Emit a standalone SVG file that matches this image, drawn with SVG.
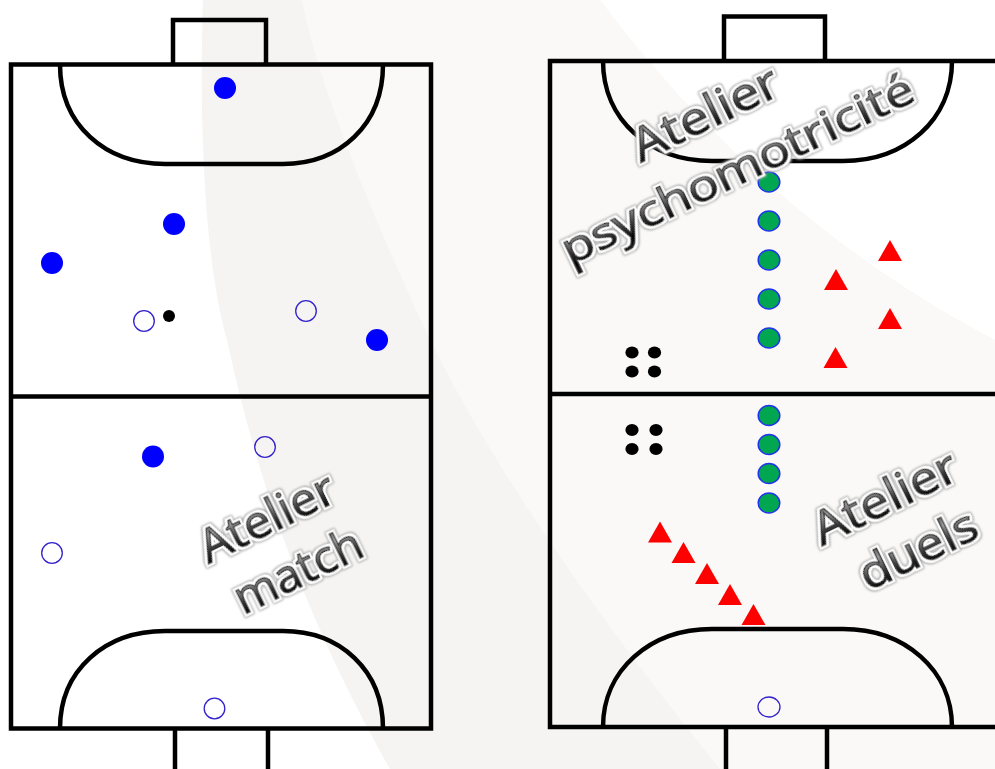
<svg xmlns="http://www.w3.org/2000/svg" width="995" height="769" viewBox="0 0 995 769">
<style>
.l{fill:none;stroke:#000;stroke-width:4.500}
.p{fill:#00f}
.o{fill:none;stroke:#3322cc;stroke-width:1.300}
.g{fill:#00a650;stroke:#2233ee;stroke-width:1.500}
.t{fill:#f00}
.k{fill:#000}
.w{font-family:"Open Sans","Noto Sans",sans-serif;font-size:46px;text-anchor:middle;fill:url(#tg);stroke:#333;stroke-width:1.300;filter:url(#halo)}
</style>
<defs>
<linearGradient id="tg" x1="0" y1="0" x2="0" y2="1">
<stop offset="0" stop-color="#222"/><stop offset=".35" stop-color="#999"/><stop offset=".6" stop-color="#333"/><stop offset=".8" stop-color="#000"/><stop offset="1" stop-color="#222"/>
</linearGradient>
<filter id="halo" x="-20%" y="-30%" width="140%" height="160%">
<feMorphology in="SourceAlpha" operator="dilate" radius="2.800" result="d1"/>
<feGaussianBlur in="d1" stdDeviation="1" result="b1"/>
<feFlood flood-color="#aaa" result="f1"/>
<feComposite in="f1" in2="b1" operator="in" result="c1"/>
<feMorphology in="SourceAlpha" operator="dilate" radius="2" result="d2"/>
<feGaussianBlur in="d2" stdDeviation=".6" result="b2"/>
<feFlood flood-color="#fff" result="f2"/>
<feComposite in="f2" in2="b2" operator="in" result="c2"/>
<feGaussianBlur in="SourceGraphic" stdDeviation=".6" result="s"/>
<feMerge><feMergeNode in="c1"/><feMergeNode in="c2"/><feMergeNode in="s"/></feMerge>
</filter>
</defs>
<rect width="995" height="769" fill="#fff"/>
<path d="M203,0 C199,120 204,260 227,340 C255,470 300,610 390,769 L995,769 L995,340 C860,270 720,160 600,0 Z" fill="#f5f4f2"/>
<path d="M302,0 C315,70 360,190 430,340 C500,480 600,620 720,769 L995,769 L995,340 C860,270 720,160 600,0 Z" fill="#faf9f7"/>
<g id="field-left">
<path class="l" d="M173,64.500 V20 H266 V64.500"/>
<path class="l" d="M175,728.500 V775 H268 V728.500"/>
<rect class="l" x="11" y="64.500" width="420" height="664"/>
<path class="l" d="M11,396.500 H431"/>
<path class="l" d="M60,64.500 C60,125 105,164 165,164 H283 C340,164 383,125 383,64.500"/>
<path class="l" d="M60,728.500 C60,670 105,631 165,631 H283 C340,631 383,670 383,728.500"/>
</g>
<g id="field-right">
<path class="l" d="M724,61 V16.500 H825 V61"/>
<path class="l" d="M726,727 V775 H827 V727"/>
<path class="l" d="M1000,61 H550 V727 H1000"/>
<path class="l" d="M550,394 H1000"/>
<path class="l" d="M603,61 C603,120 650,161 712,161 H843 C905,161 952,120 952,61"/>
<path class="l" d="M603,727 C603,670 650,629 712,629 H843 C905,629 952,670 952,727"/>
</g>
<g id="players-blue">
<circle class="p" cx="225" cy="88" r="11"/><circle class="p" cx="174" cy="224" r="11"/><circle class="p" cx="52" cy="263" r="11"/><circle class="p" cx="377" cy="340" r="11"/><circle class="p" cx="153" cy="456.500" r="11"/>
</g>
<g id="players-open">
<circle class="o" cx="144" cy="321" r="10.300"/><circle class="o" cx="306" cy="311" r="10.300"/><circle class="o" cx="265" cy="447" r="10.300"/><circle class="o" cx="52" cy="553" r="10.300"/><circle class="o" cx="214.500" cy="708.500" r="10.300"/><ellipse class="o" cx="769" cy="707" rx="11" ry="10"/>
</g>
<circle id="ball" class="k" cx="169" cy="316" r="6"/>
<g id="cones-green">
<ellipse class="g" cx="769" cy="182" rx="10.800" ry="10"/><ellipse class="g" cx="769" cy="221" rx="10.800" ry="10"/><ellipse class="g" cx="769" cy="260" rx="10.800" ry="10"/><ellipse class="g" cx="769" cy="299" rx="10.800" ry="10"/><ellipse class="g" cx="769" cy="338" rx="10.800" ry="10"/><ellipse class="g" cx="769" cy="415.500" rx="10.800" ry="10"/><ellipse class="g" cx="769" cy="444.500" rx="10.800" ry="10"/><ellipse class="g" cx="769" cy="473.500" rx="10.800" ry="10"/><ellipse class="g" cx="769" cy="503" rx="10.800" ry="10"/>
</g>
<g id="balls-upper">
<ellipse class="k" cx="632" cy="352.500" rx="6.600" ry="6"/><ellipse class="k" cx="654.500" cy="352.500" rx="6.600" ry="6"/><ellipse class="k" cx="632" cy="371.500" rx="6.600" ry="6"/><ellipse class="k" cx="654.500" cy="371.500" rx="6.600" ry="6"/>
</g>
<g id="balls-lower">
<ellipse class="k" cx="632" cy="430" rx="6.600" ry="6"/><ellipse class="k" cx="656" cy="430" rx="6.600" ry="6"/><ellipse class="k" cx="632" cy="449" rx="6.600" ry="6"/><ellipse class="k" cx="656" cy="449" rx="6.600" ry="6"/>
</g>
<g id="triangles-upper">
<polygon class="t" points="890,240 878,261 902,261"/><polygon class="t" points="836,269 824,290 848,290"/><polygon class="t" points="890,308 878,329 902,329"/><polygon class="t" points="835.500,347 823.500,368 847.500,368"/>
</g>
<g id="triangles-lower">
<polygon class="t" points="660,521.500 648,542.500 672,542.500"/><polygon class="t" points="683.500,542 671.500,563 695.500,563"/><polygon class="t" points="707,563 695,584 719,584"/><polygon class="t" points="730,584 718,605 742,605"/><polygon class="t" points="753.500,604 741.500,625 765.500,625"/>
</g>
<g id="labels">
<text class="w" transform="translate(274,532) rotate(-26) scale(1.050,.98)">Atelier</text>
<text class="w" transform="translate(305,585) rotate(-26) scale(1.020,.98)">match</text>
<text class="w" transform="translate(712,128) rotate(-26) scale(1.140,.98)">Atelier</text>
<text class="w" transform="translate(744,183) rotate(-25.500) scale(1.120,.96)">psychomotricité</text>
<text class="w" transform="translate(892,512) rotate(-26) scale(1.120,.98)">Atelier</text>
<text class="w" transform="translate(925,564) rotate(-26) scale(1.090,.98)">duels</text>
</g>
</svg>
